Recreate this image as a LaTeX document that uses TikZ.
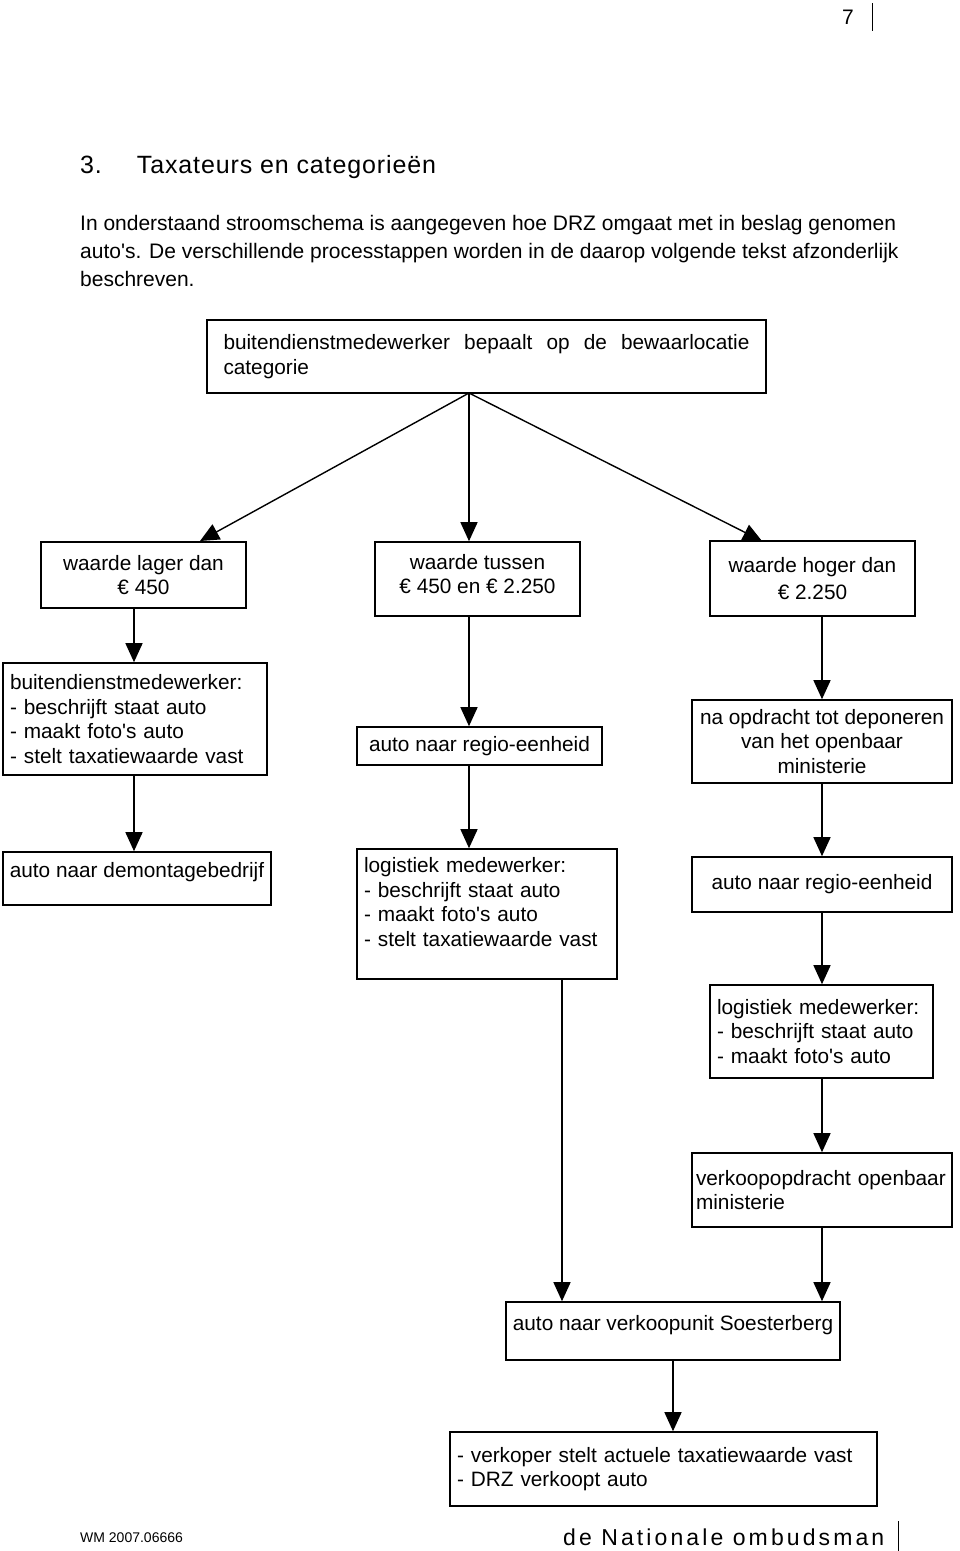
\documentclass[tikz,border=0pt]{standalone}
\usepackage{fontspec}
\setmainfont{Liberation Sans}
\newfontfamily\kopfont[LetterSpace=3.5]{Liberation Sans}
\newfontfamily\voetfont[LetterSpace=13.5]{Liberation Sans}
\usetikzlibrary{arrows.meta}

\tikzset{
  box/.style={draw, line width=1.6pt, inner sep=0pt, font=\fontsize{20.8}{24.5}\selectfont},
  arr/.style={line width=1.4pt, -{Triangle[length=19pt,width=17pt]}},
}

\begin{document}
\begin{tikzpicture}[x=1pt, y=-1pt]
  \useasboundingbox (0,0) rectangle (960,1551);

  % paginakop en tekst
  \node[anchor=base west, inner sep=0pt, font=\fontsize{21}{24}\selectfont] (pagina) at (842,24) {7};
  \draw[line width=0.8pt] (872,3) -- (872,31);
  \node[anchor=base west, inner sep=0pt, font=\kopfont\fontsize{25}{28}\selectfont] (titel) at (80,173) {3.\hspace{35pt}Taxateurs en categorieën};
  \node[anchor=base west, inner sep=0pt, align=left, font=\fontsize{21}{28}\selectfont] (intro) at (80,286)
    {In onderstaand stroomschema is aangegeven hoe DRZ omgaat met in beslag genomen\\
     auto\textquotesingle s. De verschillende processtappen worden in de daarop volgende tekst afzonderlijk\\
     beschreven.};

  % kolommen
  \coordinate (colL) at (134,0);
  \coordinate (colM) at (469,0);
  \coordinate (colR) at (822,0);
  \coordinate (colS) at (562,0);
  \coordinate (colF) at (673,0);

  % blokken
  \node[box, minimum width=559pt, minimum height=73pt, text width=526pt, align=left] (T) at (486.5,356.5)
    {buitendienstmedewerker\hfill bepaalt\hfill op\hfill de\hfill bewaarlocatie\\ categorie};
  \node[box, minimum width=205pt, minimum height=66pt, align=center] (L1) at (143.5,575) {waarde lager dan\\ € 450};
  \node[box, minimum width=205pt, minimum height=74pt, text depth=10pt, align=center] (M1) at (477.5,579) {waarde tussen\\ € 450 en € 2.250};
  \node[box, minimum width=205pt, minimum height=75pt, align=center] (R1) at (812.5,578.5) {waarde hoger dan\\[3pt] € 2.250};

  \node[box, minimum width=264pt, minimum height=112pt, text width=250pt, align=left] (L2) at (135,719)
    {buitendienstmedewerker:\\ - beschrijft staat auto\\ - maakt foto\textquotesingle s auto\\ - stelt taxatiewaarde vast};
  \node[box, minimum width=245pt, minimum height=38pt, align=center] (M2) at (479.5,746) {auto naar regio-eenheid};
  \node[box, minimum width=260pt, minimum height=83pt, align=center] (R2) at (822,741.5)
    {na opdracht tot deponeren\\ van het openbaar\\ ministerie};

  \node[box, minimum width=268pt, minimum height=53pt, text depth=17pt, align=center] (L3) at (137,878.5) {auto naar demontagebedrijf};
  \node[box, minimum width=260pt, minimum height=130pt, text width=246pt, align=left] (M3) at (487,914)
    {logistiek medewerker:\\ - beschrijft staat auto\\ - maakt foto\textquotesingle s auto\\ - stelt taxatiewaarde vast\\ \mbox{}};
  \node[box, minimum width=260pt, minimum height=55pt, align=center] (R3) at (822,884.5) {auto naar regio-eenheid};

  \node[box, minimum width=223pt, minimum height=93pt, text width=209pt, align=left] (R4) at (821.5,1031.5)
    {logistiek medewerker:\\ - beschrijft staat auto\\ - maakt foto\textquotesingle s auto};
  \node[box, minimum width=260pt, minimum height=74pt, text width=252pt, align=left] (R5) at (822,1190)
    {verkoopopdracht openbaar\\ ministerie};

  \node[box, minimum width=334pt, minimum height=58pt, text depth=16pt, align=center] (S) at (673,1331) {auto naar verkoopunit Soesterberg};
  \node[box, minimum width=427pt, minimum height=74pt, text width=413pt, align=left] (F) at (663.5,1469)
    {- verkoper stelt actuele taxatiewaarde vast\\ - DRZ verkoopt auto};

  % pijlen
  \coordinate (Tuit) at (469,393);
  \coordinate (L1in) at (200,541);
  \coordinate (R1in) at (762,541);
  \draw[arr] (Tuit) -- (L1in);
  \draw[arr] (Tuit) -- (M1.north -| colM);
  \draw[arr] (Tuit) -- (R1in);

  \draw[arr] (L1.south -| colL) -- (L2.north -| colL);
  \draw[arr] (L2.south -| colL) -- (L3.north -| colL);

  \draw[arr] (M1.south -| colM) -- (M2.north -| colM);
  \draw[arr] (M2.south -| colM) -- (M3.north -| colM);
  \draw[arr] (M3.south -| colS) -- (S.north -| colS);

  \draw[arr] (R1.south -| colR) -- (R2.north -| colR);
  \draw[arr] (R2.south -| colR) -- (R3.north -| colR);
  \draw[arr] (R3.south -| colR) -- (R4.north -| colR);
  \draw[arr] (R4.south -| colR) -- (R5.north -| colR);
  \draw[arr] (R5.south -| colR) -- (S.north -| colR);

  \draw[arr] (S.south -| colF) -- (F.north -| colF);

  % voet
  \node[anchor=base west, inner sep=0pt, font=\fontsize{14}{16}\selectfont] (kenmerk) at (80,1542) {WM 2007.06666};
  \node[anchor=base west, inner sep=0pt, font=\voetfont\fontsize{23}{26}\selectfont] (ombudsman) at (563,1545) {de Nationale ombudsman};
  \draw[line width=0.8pt] (898,1521) -- (898,1551);
\end{tikzpicture}
\end{document}
